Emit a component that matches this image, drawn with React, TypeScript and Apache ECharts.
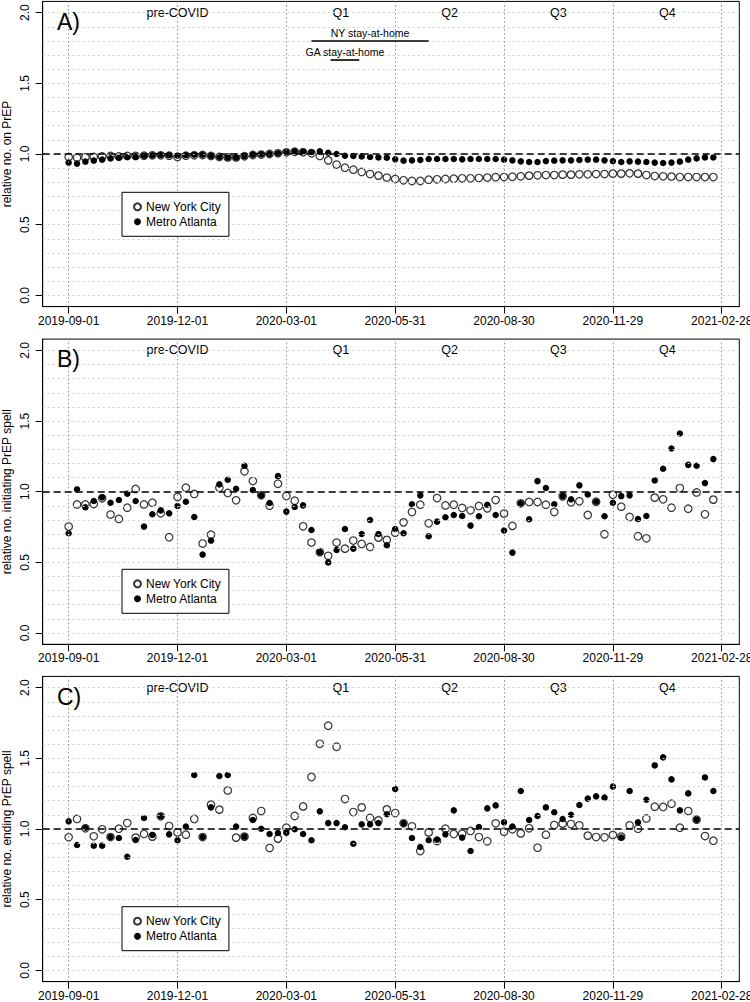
import React, { useEffect, useRef } from 'react';
import * as echarts from 'echarts';

// ---------- data ----------
const startDate = '2019-09-01';
const tickDates = ['2019-09-01', '2019-12-01', '2020-03-01', '2020-05-31', '2020-08-30', '2020-11-29', '2021-02-28'];
const yTicks = [0, 0.5, 1, 1.5, 2];
const gridLevels = [0, 0.1, 0.2, 0.3, 0.4, 0.5, 0.6, 0.7, 0.8, 0.9, 1.0, 1.1, 1.2, 1.3, 1.4, 1.5, 1.6, 1.7, 1.8, 1.9, 2.0];
const periodNames = ['pre-COVID', 'Q1', 'Q2', 'Q3', 'Q4'];
const periodStarts = ['2019-09-01', '2020-03-01', '2020-05-31', '2020-08-30', '2020-11-29'];
const periodEnds = ['2020-03-01', '2020-05-31', '2020-08-30', '2020-11-29', '2021-02-28'];
const stayNames = ['NY stay-at-home', 'GA stay-at-home'];
const stayStarts = ['2020-03-22', '2020-04-07'];
const stayEnds = ['2020-06-28', '2020-05-01'];
const stayLevels = [1.802, 1.668];

const onPrepNYC = [0.979, 0.974, 0.976, 0.979, 0.983, 0.986, 0.983, 0.986, 0.986, 0.988, 0.991, 0.991, 0.988, 0.979, 0.988, 0.991, 0.993, 0.986, 0.979, 0.976, 0.976, 0.984, 0.993, 0.996, 1.0, 1.005, 1.012, 1.016, 1.012, 1.005, 0.986, 0.955, 0.925, 0.903, 0.889, 0.873, 0.858, 0.847, 0.833, 0.823, 0.814, 0.809, 0.809, 0.818, 0.821, 0.823, 0.825, 0.828, 0.828, 0.83, 0.833, 0.836, 0.837, 0.839, 0.842, 0.847, 0.849, 0.851, 0.851, 0.854, 0.854, 0.856, 0.856, 0.858, 0.858, 0.861, 0.861, 0.863, 0.861, 0.851, 0.844, 0.842, 0.84, 0.837, 0.837, 0.837, 0.837, 0.837];
const onPrepATL = [0.939, 0.932, 0.946, 0.953, 0.96, 0.969, 0.974, 0.979, 0.979, 0.988, 0.991, 0.993, 0.991, 0.988, 0.991, 0.995, 0.995, 0.986, 0.979, 0.976, 0.976, 0.984, 0.995, 0.998, 1.0, 1.005, 1.014, 1.019, 1.017, 1.014, 1.019, 1.009, 1.0, 0.988, 0.986, 0.983, 0.979, 0.976, 0.974, 0.962, 0.953, 0.955, 0.958, 0.965, 0.965, 0.965, 0.965, 0.962, 0.965, 0.965, 0.965, 0.965, 0.96, 0.955, 0.948, 0.943, 0.943, 0.95, 0.953, 0.955, 0.955, 0.958, 0.96, 0.96, 0.955, 0.95, 0.943, 0.948, 0.946, 0.943, 0.939, 0.936, 0.939, 0.946, 0.96, 0.969, 0.976, 0.976];

const initNYC = [0.753, 0.91, 0.91, 0.913, 0.953, 0.838, 0.807, 0.887, 1.019, 0.91, 0.922, 0.847, 0.678, 0.962, 1.028, 0.984, 0.633, 0.696, 1.028, 0.991, 0.939, 1.144, 1.075, 0.975, 0.901, 1.056, 0.969, 0.936, 0.755, 0.64, 0.572, 0.546, 0.64, 0.597, 0.654, 0.63, 0.609, 0.675, 0.659, 0.71, 0.783, 0.856, 0.908, 0.776, 0.955, 0.903, 0.908, 0.885, 0.868, 0.899, 0.882, 0.941, 0.845, 0.758, 0.918, 0.927, 0.927, 0.908, 0.856, 0.967, 0.925, 0.932, 0.835, 0.929, 0.699, 0.979, 0.894, 0.821, 0.685, 0.67, 0.958, 0.946, 0.887, 1.026, 0.88, 0.995, 0.84, 0.944];
const initATL = [0.706, 1.016, 0.89, 0.934, 0.96, 0.922, 0.941, 0.986, 0.934, 0.753, 0.84, 0.868, 0.847, 0.899, 0.929, 0.821, 0.555, 0.654, 1.052, 1.085, 1.021, 1.184, 1.012, 0.974, 0.92, 1.11, 0.859, 0.892, 0.903, 0.729, 0.572, 0.499, 0.588, 0.736, 0.597, 0.701, 0.8, 0.701, 0.621, 0.736, 0.706, 0.911, 0.974, 0.685, 0.788, 0.819, 0.835, 0.828, 0.76, 0.826, 0.908, 0.835, 0.725, 0.569, 0.918, 0.805, 1.075, 1.026, 0.911, 0.969, 0.946, 1.045, 0.981, 0.929, 0.826, 0.922, 0.969, 0.974, 0.807, 0.828, 1.08, 1.162, 1.306, 1.412, 1.19, 1.184, 1.061, 1.231];

const endNYC = [0.941, 1.071, 1.005, 0.948, 0.998, 0.943, 1.002, 1.042, 0.939, 0.965, 0.946, 1.09, 1.021, 0.976, 0.96, 1.071, 0.943, 1.172, 1.137, 1.273, 0.939, 0.946, 1.078, 1.127, 0.866, 0.932, 1.009, 1.092, 1.16, 1.368, 1.603, 1.731, 1.582, 1.212, 1.12, 1.153, 1.078, 1.061, 1.139, 1.113, 1.04, 1.019, 0.844, 0.976, 0.915, 1.002, 0.965, 0.967, 0.986, 0.943, 0.913, 1.04, 0.981, 0.998, 0.969, 1.005, 0.868, 0.96, 1.028, 1.038, 1.035, 1.026, 0.953, 0.943, 0.941, 0.958, 0.946, 1.026, 1.002, 1.075, 1.158, 1.156, 1.179, 1.009, 1.127, 1.066, 0.95, 0.917];
const endATL = [1.054, 0.887, 1.009, 0.882, 0.882, 0.943, 0.936, 0.804, 0.922, 1.078, 0.958, 1.09, 0.962, 0.92, 1.017, 1.382, 0.943, 1.153, 1.375, 1.382, 1.017, 0.946, 1.064, 1.002, 0.965, 0.972, 0.974, 0.998, 0.965, 0.92, 1.125, 1.042, 1.042, 1.012, 0.896, 1.033, 1.033, 1.042, 1.104, 1.283, 1.04, 0.936, 0.873, 0.92, 0.925, 0.962, 1.132, 0.939, 0.844, 1.014, 1.146, 1.167, 1.047, 1.017, 1.269, 1.064, 1.092, 1.153, 1.118, 1.071, 1.101, 1.17, 1.215, 1.231, 1.222, 1.3, 0.94, 1.269, 1.047, 1.207, 1.45, 1.507, 1.351, 1.132, 1.252, 1.066, 1.365, 1.269];

// ---------- helpers ----------
const FONT = '"Liberation Sans", Arial, Helvetica, sans-serif';
const dayOf = (s: string) => {
  const [y, m, d] = s.split('-').map(Number);
  const [y0, m0, d0] = startDate.split('-').map(Number);
  return Math.round((Date.UTC(y, m - 1, d) - Date.UTC(y0, m0 - 1, d0)) / 86400000);
};
const tickDays = tickDates.map(dayOf);
const weekDays = onPrepNYC.map((_, i) => i * 7);

const panels = [
  { letter: 'A)', title: 'relative no. on PrEP', nyc: onPrepNYC, atl: onPrepATL, top: 1.4, legendTop: 192.3, stay: true },
  { letter: 'B)', title: 'relative no. initiating PrEP spell', nyc: initNYC, atl: initATL, top: 339.1, legendTop: 569.3, stay: false },
  { letter: 'C)', title: 'relative no. ending PrEP spell', nyc: endNYC, atl: endATL, top: 676.4, legendTop: 906.7, stay: false },
];

const GRID_LEFT = 42.7;
const GRID_WIDTH = 696.6;
const GRID_HEIGHT = 305.2;

export default function App() {
  const ref = useRef<HTMLDivElement>(null);
  useEffect(() => {
    if (!ref.current) return;
    document.body.style.margin = '0';
    document.documentElement.style.margin = '0';
    const chart = echarts.init(ref.current, undefined, { renderer: 'svg' });

    const grid: any[] = [];
    const xAxis: any[] = [];
    const yAxis: any[] = [];
    const series: any[] = [];
    const legend: any[] = [];
    const graphic: any[] = [];

    panels.forEach((p, k) => {
      grid.push({
        left: GRID_LEFT, top: p.top, width: GRID_WIDTH, height: GRID_HEIGHT,
        show: true, borderColor: '#000', borderWidth: 1, backgroundColor: '#fff',
        containLabel: false, outerBoundsMode: 'none',
      });
      xAxis.push({
        gridIndex: k, type: 'value', min: -21.7, max: 560.7,
        axisLine: { show: true, onZero: false, lineStyle: { color: '#000', width: 1 } },
        axisTick: { show: true, length: 7, customValues: tickDays, lineStyle: { color: '#000' } },
        axisLabel: {
          customValues: tickDays, margin: 8, fontSize: 12, color: '#000', fontFamily: FONT,
          formatter: (v: number) => { const i = tickDays.indexOf(Math.round(v)); return i >= 0 ? tickDates[i] : ''; },
        },
        splitLine: { show: false },
      });
      yAxis.push({
        gridIndex: k, type: 'value', min: -0.08, max: 2.08,
        name: p.title, nameLocation: 'middle', nameRotate: 90, nameGap: 30, nameMoveOverlap: false,
        nameTextStyle: { fontSize: 12, color: '#000', fontFamily: FONT },
        axisLine: { show: true, onZero: false, lineStyle: { color: '#000', width: 1 } },
        axisTick: { show: true, length: 7, customValues: yTicks, lineStyle: { color: '#000' } },
        axisLabel: {
          customValues: yTicks, rotate: 90, margin: 12, fontSize: 12, color: '#000', fontFamily: FONT,
          formatter: (v: number) => v.toFixed(1),
        },
        splitLine: { show: false },
      });

      const guideData: any[] = [];
      gridLevels.forEach((v) => guideData.push({ yAxis: v, lineStyle: { color: '#d0d0d0', type: [2, 3], width: 1 } }));
      tickDays.forEach((d) => guideData.push({ xAxis: d, lineStyle: { color: '#8f8f8f', type: [1.5, 2.5], width: 1 } }));
      guideData.push({ yAxis: 1, lineStyle: { color: '#000', type: [7, 4], width: 1.5 } });
      if (p.stay) {
        stayNames.forEach((nm, j) => {
          guideData.push([
            {
              coord: [dayOf(stayStarts[j]), stayLevels[j]],
              lineStyle: { color: '#000', type: 'solid', width: 1.6 },
              label: { show: true, formatter: nm, position: 'insideMiddleTop', distance: 2, fontSize: 10.5, color: '#000', fontFamily: FONT },
            },
            { coord: [dayOf(stayEnds[j]), stayLevels[j]] },
          ]);
        });
      }
      series.push({
        type: 'scatter', name: '_guides' + k, xAxisIndex: k, yAxisIndex: k, data: [], z: 1, silent: true,
        markLine: { silent: true, symbol: ['none', 'none'], label: { show: false }, data: guideData, animation: false },
      });

      series.push({
        type: 'scatter', name: '_periods' + k, xAxisIndex: k, yAxisIndex: k, z: 2, silent: true,
        data: periodNames.map((nm, j) => [(dayOf(periodStarts[j]) + dayOf(periodEnds[j])) / 2, 2.0, nm]),
        symbolSize: 1, itemStyle: { color: 'rgba(0,0,0,0)' },
        label: {
          show: true, position: 'inside', formatter: (pr: any) => pr.data[2], fontSize: 12.5,
          color: '#000', fontFamily: FONT, textBorderWidth: 0, opacity: 1,
        },
      });

      series.push({
        type: 'scatter', name: 'New York City', xAxisIndex: k, yAxisIndex: k, z: 3,
        data: weekDays.map((d, i) => [d, p.nyc[i]]),
        symbol: 'circle', symbolSize: 7.5,
        itemStyle: { color: 'rgba(255,255,255,0)', borderColor: '#000', borderWidth: 1.2 },
      });
      series.push({
        type: 'scatter', name: 'Metro Atlanta', xAxisIndex: k, yAxisIndex: k, z: 4,
        data: weekDays.map((d, i) => [d, p.atl[i]]),
        symbol: 'circle', symbolSize: 6.5,
        itemStyle: { color: '#000', borderWidth: 0, opacity: 1 },
      });

      legend.push({
        left: 122, top: p.legendTop, orient: 'vertical', data: ['New York City', 'Metro Atlanta'],
        selectedMode: false, borderColor: '#000', borderWidth: 1, borderRadius: 0, backgroundColor: '#fff',
        padding: [7, 8, 7, 11], itemGap: 0, itemWidth: 7, itemHeight: 7, icon: 'circle', z: 10,
        textStyle: { fontSize: 12, color: '#000', fontFamily: FONT, lineHeight: 15 },
      });

      graphic.push({
        type: 'text', x: 57, y: p.top + 20.1, z: 10,
        style: { text: p.letter, fontSize: 23, fontFamily: FONT, fill: '#000', verticalAlign: 'middle' },
      });
    });

    chart.setOption({
      animation: false,
      backgroundColor: '#fff',
      grid, xAxis, yAxis, series, legend, graphic,
      tooltip: { show: false },
    });
    return () => chart.dispose();
  }, []);
  return <div ref={ref} style={{ position: 'fixed', left: 0, top: 0, width: 750, height: 1002 }} />;
}
